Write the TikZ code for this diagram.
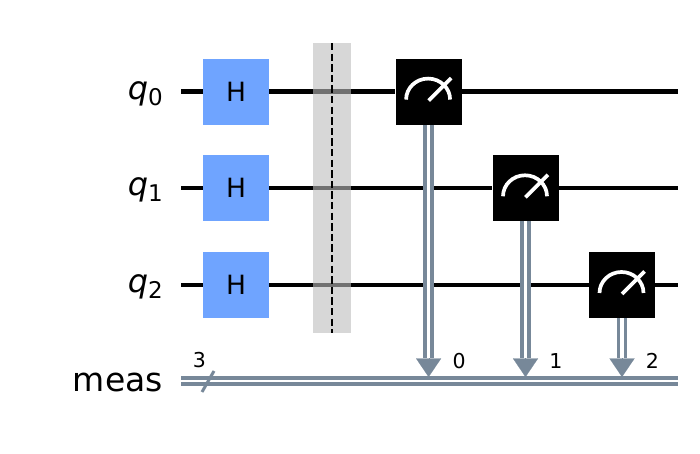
\documentclass[tikz,border=0pt]{standalone}
\usepackage{fontspec}
\setmainfont{DejaVu Sans}
\usepackage{tikz}
\usetikzlibrary{positioning, arrows.meta}
\definecolor{hblue}{HTML}{6FA4FF}
\definecolor{cgray}{HTML}{778899}
\definecolor{bargray}{HTML}{BDBDBD}
\newcommand{\qname}[1]{{\fontsize{32}{36}\selectfont\textit{q}}\raisebox{-6pt}{\fontsize{23}{26}\selectfont #1}}

\begin{document}
\begin{tikzpicture}[
x=1pt, y=1pt, node distance=96.7pt, on grid,
hgate/.style={rectangle, fill=hblue, minimum size=66pt, inner sep=0pt, font=\fontsize{26.5}{30}\selectfont},
meterbox/.style={rectangle, fill=black, minimum size=66pt, inner sep=0pt, path picture={
  \draw[white, line width=3.7pt] ([shift={(-22.5,-8)}]path picture bounding box.center) arc[start angle=180, end angle=0, x radius=22, y radius=21];
  \draw[white, line width=3.7pt] ([shift={(0,-9)}]path picture bounding box.center) -- ([shift={(22.5,13.5)}]path picture bounding box.center);}},
barrier/.style={rectangle, fill=bargray, fill opacity=0.6, minimum width=38pt, minimum height=290pt, inner sep=0pt},
wirelabel/.style={anchor=east, inner sep=0pt, font=\fontsize{33}{37}\selectfont},
qwire/.style={draw=black, line width=4.4pt},
cwire/.style={draw=cgray, line width=4.2pt, double=white, double distance=1.8pt},
cdrop/.style={draw=cgray, line width=3.8pt, double=white, double distance=3.2pt},
ctip/.style={draw=cgray, line width=0.1pt, -{Triangle[width=25pt, length=18.5pt, fill=cgray]}},
bitlabel/.style={inner sep=0pt, font=\fontsize{20.5}{24}\selectfont}]
\useasboundingbox (0,0) rectangle (700,454);
% gates
\node[hgate] (h0) at (236,362.4) {H};
\node[hgate] (h1) [below=of h0] {H};
\node[hgate] (h2) [below=of h1] {H};
\node[meterbox] (m0) [right=192.6pt of h0] {};
\node[meterbox] (m1) [below right=96.7pt and 96.9pt of m0] {};
\node[meterbox] (m2) [below right=96.7pt and 96.5pt of m1] {};
% wire names
\node[wirelabel] (q0) at ([shift={(-73,-2)}]h0.center) {\qname{0}};
\node[wirelabel] (q1) at ([shift={(-73,-2)}]h1.center) {\qname{1}};
\node[wirelabel] (q2) at ([shift={(-73,-2)}]h2.center) {\qname{2}};
\coordinate (s0) at ([xshift=-55pt]h0.center);
\coordinate (s1) at ([xshift=-55pt]h1.center);
\coordinate (s2) at ([xshift=-55pt]h2.center);
\coordinate (e0) at ([xshift=442pt]h0.center);
\coordinate (e1) at ([xshift=442pt]h1.center);
\coordinate (e2) at ([xshift=442pt]h2.center);
\draw[qwire] (s0) -- (h0);
\draw[qwire] (s1) -- (h1);
\draw[qwire] (s2) -- (h2);
\draw[qwire] (h0) -- (m0);
\draw[qwire] (h1) -- (m1);
\draw[qwire] (h2) -- (m2);
\draw[qwire] (m0) -- (e0);
\draw[qwire] (m1) -- (e1);
\draw[qwire] (m2) -- (e2);
% barrier
\node[barrier] (bar) at ([xshift=96pt]h1.center) {};
\draw[black, line width=2pt, dash pattern=on 7.4pt off 3.2pt] (bar.north) -- (bar.south);
% classical register
\node[wirelabel] (meas) at (163,71.5) {meas};
\coordinate (cs) at (181,73);
\coordinate (ce) at (678,73);
\draw[cwire] (cs) -- (ce);
\draw[cgray, line width=3pt] ([shift={(21,-11)}]cs) -- ([shift={(33,10)}]cs);
\node[bitlabel] (n3) at ([shift={(18.5,21)}]cs) {3};
% measure drops
\coordinate (t0) at (m0 |- 0,77);
\coordinate (t1) at (m1 |- 0,77);
\coordinate (t2) at (m2 |- 0,77);
\coordinate (b0) at ([yshift=18.5pt]t0);
\coordinate (b1) at ([yshift=18.5pt]t1);
\coordinate (b2) at ([yshift=18.5pt]t2);
\draw[cdrop] (m0) -- (b0);
\draw[cdrop] (m1) -- (b1);
\draw[cdrop] (m2) -- (b2);
\draw[ctip] (b0) -- (t0);
\draw[ctip] (b1) -- (t1);
\draw[ctip] (b2) -- (t2);
\node[bitlabel] (n0) at ([shift={(30.5,16)}]t0) {0};
\node[bitlabel] (n1) at ([shift={(30.5,16)}]t1) {1};
\node[bitlabel] (n2) at ([shift={(30.5,16)}]t2) {2};
\end{tikzpicture}
\end{document}
